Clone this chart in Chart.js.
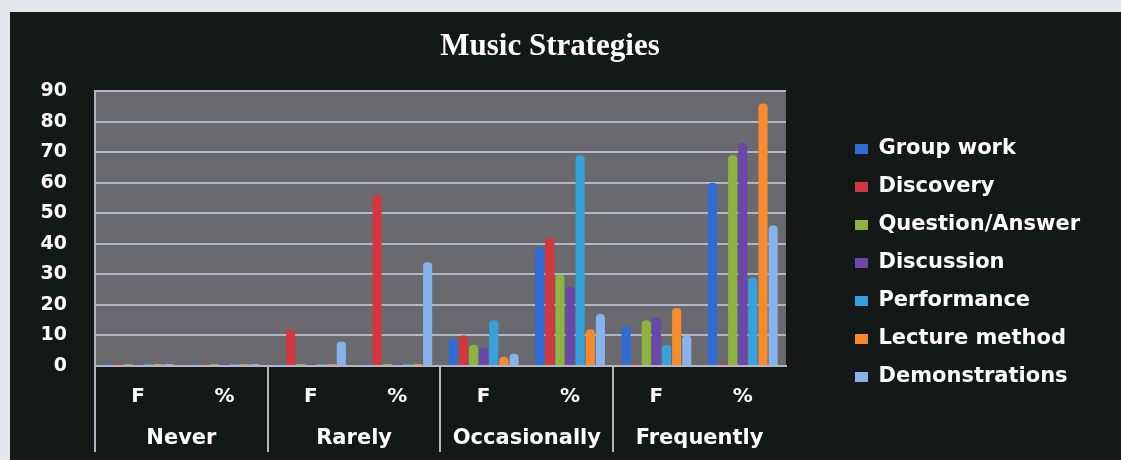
<!DOCTYPE html>
<html lang="en">
<head>
  <meta charset="UTF-8" />
  <title>Music Strategies</title>
  <script src="https://cdn.jsdelivr.net/npm/chart.js"></script>
  <style>
    html, body {
      margin: 0;
      padding: 0;
      background: #e4e8ea;
    }
    .box {
      position: absolute;
      left: 10px;
      top: 12px;
      width: 1111px;
      height: 448px;
      background: #141816;
    }
  </style>
</head>
<body>
  <div class="box"><canvas id="chart" width="1111" height="448"></canvas></div>

  <script>
    // sub categories (F / %) and the groups below them
    const subLabels = ['F', '%', 'F', '%', 'F', '%', 'F', '%'];
    const groups = ['Never', 'Rarely', 'Occasionally', 'Frequently'];

    const groupWork      = [0, 0, 0, 0, 9, 39, 13, 60];
    const discovery      = [0, 0, 12, 56, 10, 42, 0, 0];
    const questionAnswer = [0, 0, 0, 0, 7, 30, 15, 69];
    const discussion     = [0, 0, 0, 0, 6, 26, 16, 73];
    const performance    = [0, 0, 0, 0, 15, 69, 7, 29];
    const lecture        = [0, 0, 0, 0, 3, 12, 19, 86];
    const demonstrations = [0, 0, 8, 34, 4, 17, 10, 46];

    const yMax = 90;
    const yStep = 10;

    const font = "'DejaVu Sans', sans-serif";
    const lineCol = '#b2b6c4';
    const legendGap = 52;

    // grey back wall behind the bars
    const wall = {
      id: 'wall',
      beforeDraw(chart) {
        const { ctx, chartArea: a } = chart;
        ctx.save();
        ctx.fillStyle = '#69696e';
        ctx.fillRect(a.left, a.top, a.right - a.left, a.bottom - a.top);
        ctx.restore();
      }
    };

    // leave some empty room between the plot and the legend
    const legendSpace = {
      id: 'legendSpace',
      afterInit(chart) {
        const lg = chart.legend;
        const fit = lg.fit;
        lg.fit = function () {
          fit.call(this);
          this.width += legendGap;
        };
      },
      afterLayout(chart) {
        chart.legend.left += legendGap;
      }
    };

    function ds(label, data, color) {
      return {
        label: label,
        data: data,
        backgroundColor: color,
        borderWidth: 0,
        borderRadius: 4,
        minBarLength: 2,
        categoryPercentage: 0.82,
        barPercentage: 0.9
      };
    }

    new Chart(document.getElementById('chart'), {
      type: 'bar',
      data: {
        labels: subLabels,
        datasets: [
          ds('Group work', groupWork, '#2f6bd6'),
          ds('Discovery', discovery, '#d2363e'),
          ds('Question/Answer', questionAnswer, '#8db43f'),
          ds('Discussion', discussion, '#6a47a8'),
          ds('Performance', performance, '#36a2dc'),
          ds('Lecture method', lecture, '#f68a2c'),
          ds('Demonstrations', demonstrations, '#86b3ec')
        ]
      },
      options: {
        responsive: false,
        animation: false,
        layout: { padding: { top: 0, right: 31, bottom: 8, left: 0 } },
        scales: {
          x: {
            position: 'bottom',
            weight: 0,
            grid: {
              drawOnChartArea: false,
              drawTicks: true,
              tickLength: 86,
              lineWidth: 2,
              color: c => c.index % 2 === 0 ? lineCol : 'rgba(0,0,0,0)'
            },
            border: { display: true, color: lineCol, width: 2 },
            ticks: { color: '#fff', font: { family: font, size: 20, weight: 'bold' }, padding: -67 },
            afterFit: s => { s.height = 40; }
          },
          x2: {
            type: 'category',
            labels: groups,
            position: 'bottom',
            weight: 1,
            offset: true,
            grid: { display: false, drawTicks: false },
            border: { display: false },
            ticks: { color: '#fff', font: { family: font, size: 21, weight: 'bold' }, padding: 20 },
            afterFit: s => { s.height = 46; }
          },
          y: {
            min: 0,
            max: yMax,
            ticks: { stepSize: yStep, color: '#fff', font: { family: font, size: 19, weight: 'bold' }, padding: 28 },
            grid: { color: lineCol, lineWidth: 2, drawTicks: false },
            border: { display: true, color: lineCol, width: 2 },
            afterFit: s => { s.width = 85; }
          }
        },
        plugins: {
          title: {
            display: true,
            text: 'Music Strategies',
            color: '#fff',
            font: { family: "'Liberation Serif', serif", size: 31, weight: 'bold' },
            padding: { top: 16, bottom: 26 }
          },
          legend: {
            position: 'right',
            align: 'center',
            title: {
              display: true,
              text: '',
              font: { size: 1, lineHeight: 62 },
              padding: 0
            },
            labels: {
              color: '#fff',
              font: { family: font, size: 21, weight: 'bold' },
              boxWidth: 13,
              boxHeight: 10,
              padding: 17
            }
          },
          tooltip: { enabled: false }
        }
      },
      plugins: [wall, legendSpace]
    });
  </script>
</body>
</html>
